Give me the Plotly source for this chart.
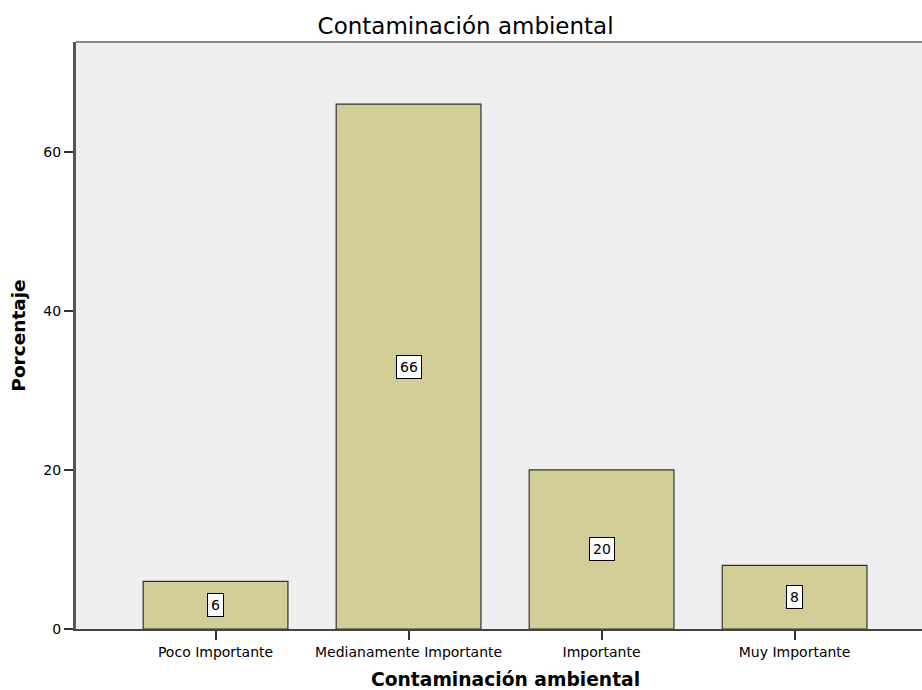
import plotly.graph_objects as go

categories = ["Poco Importante", "Medianamente Importante", "Importante", "Muy Importante"]
percentages = [6, 66, 20, 8]
y_ticks = [0, 20, 40, 60]

FONT = "DejaVu Sans"

fig = go.Figure()
fig.add_trace(go.Bar(
    x=categories,
    y=percentages,
    width=0.75,
    marker=dict(color="#D3CE97", line=dict(color="#333333", width=1.2)),
    hoverinfo="skip",
))

for c, v in zip(categories, percentages):
    fig.add_annotation(
        x=c, y=v / 2, text=str(v), showarrow=False,
        font=dict(family=FONT, size=14, color="black"),
        bgcolor="white", bordercolor="black", borderwidth=1, borderpad=3,
    )

fig.update_layout(
    width=922, height=690,
    margin=dict(l=76, r=0, t=42, b=61),
    paper_bgcolor="white",
    plot_bgcolor="#EFEFEF",
    showlegend=False,
    title=dict(
        text="Contaminación ambiental",
        x=0.505, xanchor="center", y=0.962, yanchor="middle",
        font=dict(family=FONT, size=23, color="black"),
    ),
    font=dict(family=FONT, color="black"),
)

fig.add_annotation(
    text="<b>Contaminación ambiental</b>", xref="paper", yref="paper",
    x=0.508, y=-0.086, xanchor="center", yanchor="middle", showarrow=False,
    font=dict(family=FONT, size=18.7, color="black"),
)

fig.update_xaxes(
    range=[-0.723, 3.66],
    showline=True, linecolor="#444444", linewidth=2,
    mirror=False,
    ticks="outside", ticklen=9, tickcolor="#333333", tickwidth=2,
    tickfont=dict(family=FONT, size=14, color="black"),
    showgrid=False, zeroline=False,
)
fig.update_yaxes(
    range=[0, 73.8],
    tickvals=y_ticks,
    showline=True, linecolor="#555555", linewidth=3,
    ticks="outside", ticklen=9, tickcolor="#333333", tickwidth=2,
    tickfont=dict(family=FONT, size=14, color="black"),
    showgrid=False, zeroline=False,
    title=dict(text="<b>Porcentaje</b>",
               font=dict(family=FONT, size=18.5, color="black"), standoff=13),
)

# top frame line
fig.add_shape(type="line", xref="paper", yref="paper", x0=0, x1=1, y0=1, y1=1,
              line=dict(color="#8a8a8a", width=2))

fig.write_html("out.html", config={"displayModeBar": False},
               post_script="document.body.style.margin='0';")
